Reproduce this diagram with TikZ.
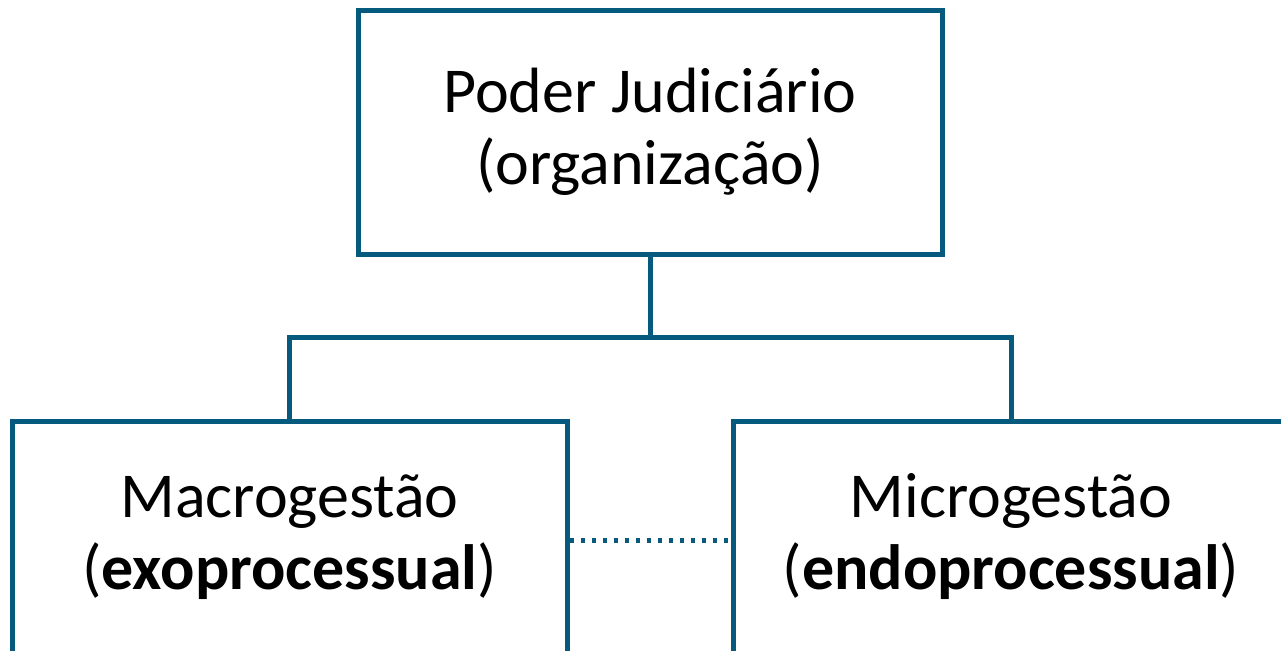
\documentclass[tikz,border=0pt]{standalone}
\usepackage{fontspec}
\setmainfont{Carlito}
\usepackage{xcolor}
\usetikzlibrary{positioning,calc}
\definecolor{boxblue}{HTML}{055A7E}

\begin{document}
\begin{tikzpicture}[x=0.5pt, y=-0.5pt,
    orgbox/.style={draw=boxblue, line width=2.5pt, rectangle, fill=white, align=center,
        font=\fontsize{32}{36}\selectfont, inner sep=0pt},
    link/.style={draw=boxblue, line width=2.5pt}]
    \useasboundingbox (0,0) rectangle (1281,650);
    \clip (0,0) rectangle (1281,650);
    \node[orgbox, minimum width=292pt, minimum height=122pt] (pj) at (650,132) {Poder Judiciário\\(organização)};
    \node[orgbox, minimum width=277.5pt, minimum height=116pt] (macro) at (289.5,537) {Macrogestão\\(\textbf{exoprocessual})};
    \node[orgbox, minimum width=278pt, minimum height=116pt] (micro) at (1011,537) {Microgestão\\(\textbf{endoprocessual})};
    \coordinate (split) at (650,337);
    \draw[link] (pj.south) -- (split);
    \draw[link] (macro.north) |- (split) -| (micro.north);
    \draw[link, dash pattern=on 2pt off 3.5pt] (macro.east |- 0,540) -- (micro.west |- 0,540);
\end{tikzpicture}
\end{document}
